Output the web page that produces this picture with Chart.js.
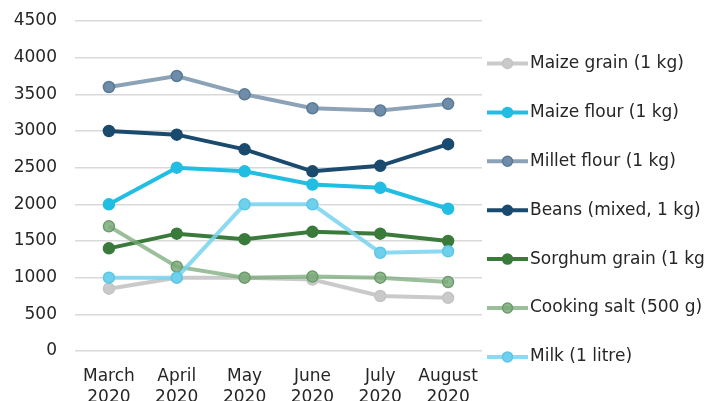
<!DOCTYPE html>
<html>
<head>
<meta charset="utf-8">
<script src="https://cdn.jsdelivr.net/npm/chart.js@4"></script>
<style>
html,body{margin:0;padding:0;background:#fff;overflow:hidden;}
#wrap{width:707px;height:420px;}
</style>
</head>
<body>
<div id="wrap"><canvas id="c" width="707" height="420"></canvas></div>
<script>
const categories = [["March","2020"],["April","2020"],["May","2020"],["June","2020"],["July","2020"],["August","2020"]];
const seriesNames = ["Maize grain (1 kg)","Maize flour (1 kg)","Millet flour (1 kg)","Beans (mixed, 1 kg)","Sorghum grain (1 kg","Cooking salt (500 g)","Milk (1 litre)"];
const maizeGrain  = [850, 1000, 1000, 975, 750, 725];
const maizeFlour  = [2000, 2500, 2450, 2270, 2225, 1940];
const milletFlour = [3600, 3750, 3500, 3310, 3280, 3370];
const beans       = [3000, 2950, 2750, 2450, 2525, 2820];
const sorghum     = [1400, 1600, 1525, 1625, 1600, 1500];
const salt        = [1700, 1150, 1000, 1015, 1000, 940];
const milk        = [1000, 1000, 2000, 2000, 1340, 1360];
const yTicks = [0,500,1000,1500,2000,2500,3000,3500,4000,4500];

const seriesData = [maizeGrain, maizeFlour, milletFlour, beans, sorghum, salt, milk];
const styles = [
  {line:'#cacaca', fill:'#cacaca', border:'#c4c4c4'},
  {line:'#22bde3', fill:'#22bde3', border:'#22bde3'},
  {line:'#8ca2b6', fill:'#6f8ca8', border:'#5a7a96'},
  {line:'#1a4a6e', fill:'#1a4a6e', border:'#1a4a6e'},
  {line:'#3a7b3c', fill:'#3a7b3c', border:'#3a7b3c'},
  {line:'rgba(120,170,120,0.75)', fill:'rgba(125,170,125,0.85)', border:'#6b9c6b'},
  {line:'rgba(120,212,238,0.85)', fill:'#6fd0ec', border:'#5cc6e6'}
];
const FONT = "'DejaVu Sans'";
const TXT = '#262626';

const datasets = seriesData.map((d,i)=>({
  label: seriesNames[i],
  data: d,
  borderColor: styles[i].line,
  backgroundColor: styles[i].fill,
  pointBackgroundColor: styles[i].fill,
  pointBorderColor: styles[i].border,
  pointBorderWidth: 1.5,
  pointRadius: 5.5,
  borderWidth: 4,
  tension: 0,
  fill: false,
  order: 10 - i
}));

const legendPlugin = {
  id: 'customLegend',
  afterDraw(chart){
    const ctx = chart.ctx;
    const x0 = 487, x1 = 528, tx = 530;
    const y0 = 63.5, dy = 48.9;
    ctx.save();
    chart.data.datasets.forEach((ds,i)=>{
      const y = y0 + i*dy;
      ctx.strokeStyle = ds.borderColor;
      ctx.lineWidth = 4;
      ctx.beginPath(); ctx.moveTo(x0,y); ctx.lineTo(x1,y); ctx.stroke();
      ctx.beginPath(); ctx.arc((x0+x1)/2, y, 5, 0, Math.PI*2);
      ctx.fillStyle = ds.pointBackgroundColor; ctx.fill();
      ctx.lineWidth = 1.5; ctx.strokeStyle = ds.pointBorderColor; ctx.stroke();
      ctx.fillStyle = TXT;
      ctx.font = "17px " + FONT;
      ctx.textAlign = 'left'; ctx.textBaseline = 'middle';
      ctx.fillText(ds.label, tx, y);
    });
    ctx.restore();
  }
};

new Chart(document.getElementById('c'), {
  type: 'line',
  data: { labels: categories, datasets },
  options: {
    responsive: false,
    animation: false,
    events: [],
    layout: { padding: { top: 21, right: 225, left: 0, bottom: 0 } },
    plugins: { legend: { display: false }, tooltip: { enabled: false } },
    scales: {
      x: {
        offset: true,
        grid: { display: false, drawTicks: false },
        border: { display: false },
        ticks: { color: TXT, font: { family: FONT, size: 17, lineHeight: 1.25 }, padding: 15, maxRotation: 0, autoSkip: false },
        afterFit(s){ s.height = 420 - 351 - 0; }
      },
      y: {
        min: 0, max: 4500,
        afterBuildTicks(s){ s.ticks = yTicks.map(v=>({value:v})); },
        grid: { color: '#d9d9d9', lineWidth: 1.5, drawTicks: false },
        border: { display: false },
        ticks: { color: TXT, font: { family: FONT, size: 17 }, padding: 18, callback: v => String(v) },
        afterFit(s){ s.width = 75; s.paddingTop = 0; s.paddingBottom = 0; }
      }
    }
  },
  plugins: [legendPlugin]
});
</script>
</body>
</html>
